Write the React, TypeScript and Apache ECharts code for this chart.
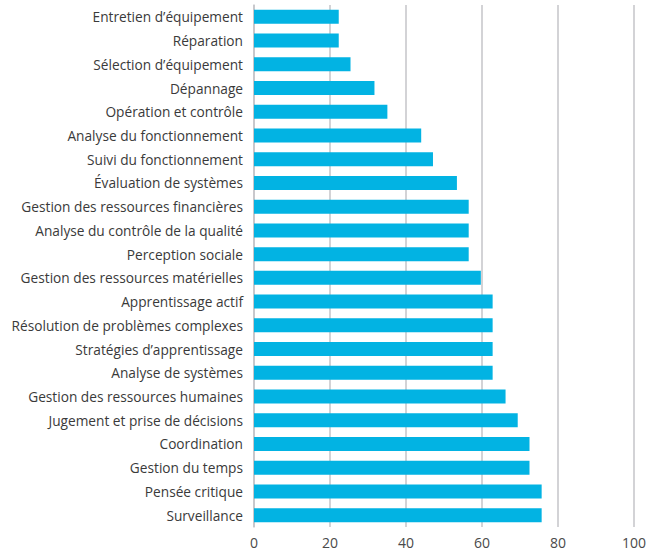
import React, { useEffect, useRef } from "react";
import * as echarts from "echarts";

const categories = [
  "Entretien d’équipement",
  "Réparation",
  "Sélection d’équipement",
  "Dépannage",
  "Opération et contrôle",
  "Analyse du fonctionnement",
  "Suivi du fonctionnement",
  "Évaluation de systèmes",
  "Gestion des ressources financières",
  "Analyse du contrôle de la qualité",
  "Perception sociale",
  "Gestion des ressources matérielles",
  "Apprentissage actif",
  "Résolution de problèmes complexes",
  "Stratégies d’apprentissage",
  "Analyse de systèmes",
  "Gestion des ressources humaines",
  "Jugement et prise de décisions",
  "Coordination",
  "Gestion du temps",
  "Pensée critique",
  "Surveillance",
];

const values = [
  22.3, 22.3, 25.4, 31.7, 35.1, 44.0, 47.1, 53.4, 56.5, 56.5, 56.5, 59.7,
  62.8, 62.8, 62.8, 62.8, 66.2, 69.4, 72.5, 72.5, 75.7, 75.7,
];

const xTicks = { min: 0, max: 100, interval: 20 };

export default function App() {
  const ref = useRef<HTMLDivElement>(null);
  useEffect(() => {
    if (!ref.current) return;
    const chart = echarts.init(ref.current, null, { renderer: "svg" });
    chart.setOption({
      animation: false,
      backgroundColor: "#ffffff",
      grid: { left: 254, right: 13, top: 5, bottom: 26, containLabel: false },
      xAxis: {
        type: "value",
        min: xTicks.min,
        max: xTicks.max,
        interval: xTicks.interval,
        axisLine: { show: false },
        axisTick: { show: false },
        splitLine: { show: true, lineStyle: { color: "#c4c5c9", width: 1.5 } },
        axisLabel: {
          color: "#4a4a4a",
          fontFamily: "Open Sans",
          fontSize: 14,
          margin: 8,
        },
      },
      yAxis: {
        type: "category",
        inverse: true,
        data: categories,
        axisLine: { show: true, lineStyle: { color: "#c4c5c9", width: 1.5 } },
        axisTick: { show: false },
        axisLabel: {
          color: "#3a3a3a",
          fontFamily: "Open Sans",
          fontSize: 13.7,
          margin: 11,
        },
      },
      series: [
        {
          type: "bar",
          data: values,
          barCategoryGap: "41%",
          itemStyle: { color: "#02b3e3" },
        },
      ],
    });
    return () => chart.dispose();
  }, []);
  return (
    <div
      ref={ref}
      style={{ position: "absolute", left: 0, top: 0, width: 649, height: 553 }}
    />
  );
}
